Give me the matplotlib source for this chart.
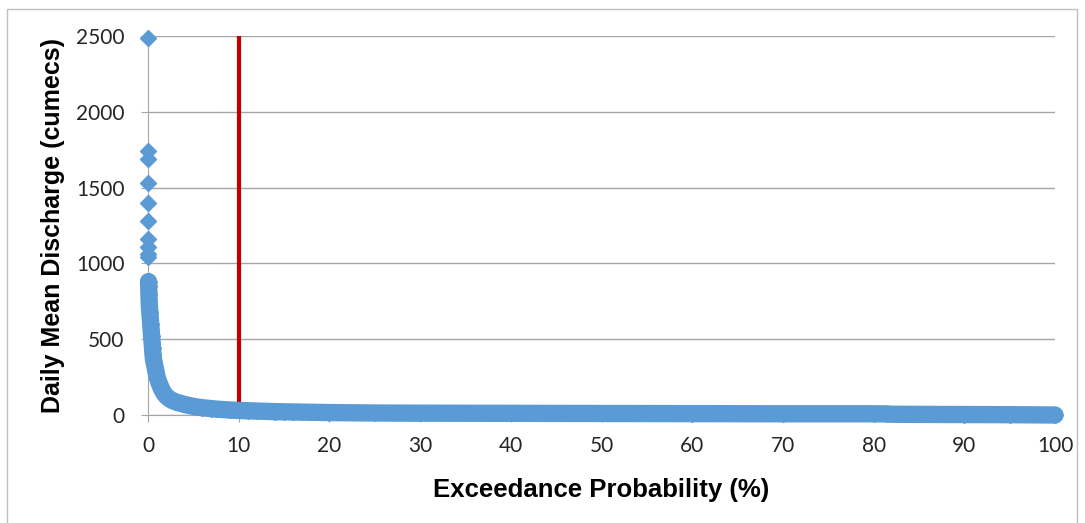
import matplotlib.pyplot as plt
from matplotlib.patches import Rectangle

# isolated flood peaks near 0 % exceedance
peak_exceedance = [0.0, 0.01, 0.01, 0.02, 0.02, 0.03, 0.03, 0.04, 0.04, 0.05]
peak_discharge = [2490, 1740, 1690, 1530, 1400, 1280, 1160, 1110, 1060, 1040]

# rest of the flow duration curve
exceedance = [0.06, 0.08, 0.1, 0.12, 0.15, 0.2, 0.25, 0.3, 0.35, 0.4, 0.45, 0.5,
              0.55, 0.6, 0.7, 0.8, 0.9, 1.0, 1.2, 1.4, 1.6, 1.8, 2.0, 2.3, 2.6,
              3.0, 3.5, 4.0, 4.5, 5.0, 5.5, 6.0, 6.5, 7.0, 7.5, 8.0, 9.0, 10.0,
              11.0, 12.0, 13.0, 14.0, 15.0, 16.0, 17.0, 18.0, 19.0, 20.0, 25.0,
              30.0, 40.0, 50.0, 60.0, 70.0, 80.0, 81.5, 82.0, 85.0, 90.0, 95.0,
              100.0]
discharge = [880, 850, 800, 760, 720, 680, 640, 600, 560, 520, 480, 440,
             400, 370, 340, 310, 280, 250, 215, 185, 160, 140, 125, 110, 98,
             88, 78, 70, 63, 57, 52, 48, 45, 42, 39, 37, 33, 30,
             28, 26, 24, 22, 21, 20, 19, 18, 17, 16, 13,
             12, 11, 10, 9, 8, 8, 7, 5, 4, 3, 2,
             0]

threshold = 10  # Q10 marker line

blue = '#5B9BD5'
grid_gray = '#A6A6A6'

plt.rcParams['font.family'] = ['Lato', 'DejaVu Sans']

fig = plt.figure(figsize=(10.85, 5.23), dpi=100)
fig.patches.append(Rectangle((7 / 1085, -0.05), 1070 / 1085, 1 - 9 / 523 + 0.05,
                             transform=fig.transFigure, fill=False,
                             edgecolor='#BFBFBF', linewidth=1.0))

ax = fig.add_axes([148 / 1085, 108 / 523, 907 / 1085, 379 / 523])

ax.plot([threshold, threshold], [0, 2500], color='#C00000', linewidth=3, zorder=2)
ax.plot(exceedance, discharge, color=blue, marker='D', markersize=8,
        linewidth=12.5, solid_joinstyle='round', solid_capstyle='round',
        zorder=3, clip_on=False)
ax.plot(peak_exceedance, peak_discharge, color=blue, marker='D', markersize=8,
        linestyle='none', zorder=3, clip_on=False)

ax.set_xlim(0, 100)
ax.set_ylim(0, 2500)
ax.set_xticks(range(0, 101, 10))
ax.set_yticks(range(0, 2501, 500))
ax.yaxis.grid(True, color=grid_gray, linewidth=1)
ax.set_axisbelow(True)

for side in ['top', 'right']:
    ax.spines[side].set_visible(False)
for side in ['left', 'bottom']:
    ax.spines[side].set_color(grid_gray)
ax.tick_params(axis='both', colors=grid_gray, length=5, labelcolor='#262626',
               labelsize=15, direction='out')
ax.tick_params(axis='x', pad=10)
ax.tick_params(axis='y', pad=12)

ax.set_xlabel('Exceedance Probability (%)', fontsize=18.5, fontweight='bold',
              family=['Liberation Sans', 'DejaVu Sans'], labelpad=16)
ax.set_ylabel('Daily Mean Discharge (cumecs)', fontsize=18, fontweight='bold',
              family=['Liberation Sans', 'DejaVu Sans'], labelpad=8)

fig.savefig('out.png', dpi=100)
